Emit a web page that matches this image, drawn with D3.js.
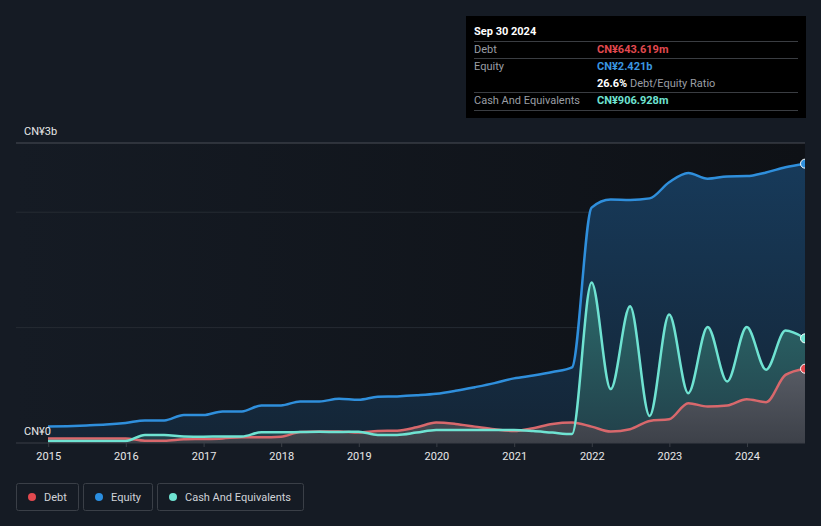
<!DOCTYPE html>
<html>
<head>
<meta charset="utf-8">
<script src="https://cdnjs.cloudflare.com/ajax/libs/d3/7.8.5/d3.min.js"></script>
<style>
  body { margin: 0; background: #151b24; }
  svg { display: block; font-family: Roboto, "Open Sans", sans-serif; }
</style>
</head>
<body>
<svg id="chart" width="821" height="526"></svg>
<script>
// quarter ends, Dec 2014 .. Sep 2024
var quarters = ["2014-12","2015-03","2015-06","2015-09","2015-12","2016-03","2016-06","2016-09",
  "2016-12","2017-03","2017-06","2017-09","2017-12","2018-03","2018-06","2018-09",
  "2018-12","2019-03","2019-06","2019-09","2019-12","2020-03","2020-06","2020-09",
  "2020-12","2021-03","2021-06","2021-09","2021-12","2022-03","2022-06","2022-09",
  "2022-12","2023-03","2023-06","2023-09","2023-12","2024-03","2024-06","2024-09"];

// values in CN¥ billions
var equity = [0.143,0.146,0.152,0.160,0.174,0.196,0.196,0.243,0.243,0.274,0.274,0.326,0.326,0.360,0.360,0.383,
  0.374,0.400,0.404,0.413,0.426,0.452,0.484,0.519,0.560,0.585,0.615,0.655,2.040,2.110,2.107,2.120,
  2.260,2.340,2.290,2.310,2.313,2.345,2.390,2.421];
var cash = [0.017,0.017,0.017,0.017,0.017,0.070,0.070,0.057,0.055,0.057,0.057,0.093,0.093,0.095,0.097,0.095,
  0.098,0.070,0.070,0.090,0.113,0.113,0.113,0.113,0.113,0.104,0.090,0.078,1.390,0.467,1.185,0.235,
  1.113,0.432,1.006,0.533,1.006,0.635,0.974,0.907];
var debt = [0.040,0.040,0.040,0.040,0.040,0.020,0.020,0.032,0.035,0.040,0.050,0.050,0.055,0.095,0.100,0.100,
  0.090,0.104,0.107,0.136,0.177,0.165,0.142,0.119,0.104,0.128,0.165,0.177,0.142,0.099,0.119,0.191,
  0.206,0.345,0.316,0.325,0.380,0.354,0.590,0.644];

var yearTicks = [2015,2016,2017,2018,2019,2020,2021,2022,2023,2024];
var yLabelVals = [0, 2.6];
var yLabelText = ["CN¥0", "CN¥3b"];
var gridVals = [1, 2];

var legendNames = ["Debt", "Equity", "Cash And Equivalents"];
var tipRows = [
  ["Debt", "CN¥643.619m", "#e2494f"],
  ["Equity", "CN¥2.421b", "#3a96e0"],
  ["", "26.6%", "#ffffff", " Debt/Equity Ratio"],
  ["Cash And Equivalents", "CN¥906.928m", "#6fe3d2"]
];

var parse = d3.timeParse("%Y-%m");
var dates = quarters.map(function(q){ return d3.timeDay.offset(d3.timeMonth.offset(parse(q), 1), -1); });

var svg = d3.select("#chart");
var plotL = 16, plotR = 805, plotT = 143, plotB = 443;

var x = d3.scaleTime()
  .domain([new Date(2014, 11, 31), new Date(2024, 8, 30)])
  .range([48, 805]);
var y = d3.scaleLinear().domain([0, 2.6]).range([plotB, plotT]);

var defs = svg.append("defs");
var bgGrad = defs.append("linearGradient").attr("id", "bg").attr("x1", 0).attr("x2", 1).attr("y1", 0).attr("y2", 0);
bgGrad.append("stop").attr("offset", "0%").attr("stop-color", "#151b24");
bgGrad.append("stop").attr("offset", "100%").attr("stop-color", "#0e1116");

function vGrad(id, c1, c2) {
  var gr = defs.append("linearGradient").attr("id", id).attr("x1", 0).attr("x2", 0).attr("y1", 0).attr("y2", 1);
  gr.append("stop").attr("offset", "0%").attr("stop-color", c1);
  gr.append("stop").attr("offset", "100%").attr("stop-color", c2);
}
vGrad("gEq", "#173a5a", "#142536");
vGrad("gCash", "#2c6a6b", "#22404a");
vGrad("gDebt", "#575b64", "#3d4149");

defs.append("clipPath").attr("id", "clip").append("rect")
  .attr("x", plotL).attr("y", 0).attr("width", plotR - plotL).attr("height", plotB + 1);

svg.append("rect").attr("x", plotL).attr("y", plotT).attr("width", plotR - plotL).attr("height", plotB - plotT)
  .attr("fill", "url(#bg)");

// grid
svg.append("line").attr("x1", plotL).attr("x2", plotR).attr("y1", y(2.6)).attr("y2", y(2.6))
  .attr("stroke", "#4a4f57").attr("stroke-width", 1);
svg.selectAll(".grid").data(gridVals).enter().append("line")
  .attr("x1", plotL).attr("x2", plotR)
  .attr("y1", function(d){ return y(d); }).attr("y2", function(d){ return y(d); })
  .attr("stroke", "#262b33").attr("stroke-width", 1);

var idx = d3.range(dates.length);
var g = svg.append("g").attr("clip-path", "url(#clip)");

function area(vals) {
  return d3.area().curve(d3.curveMonotoneX)
    .x(function(i){ return x(dates[i]); })
    .y0(y(0)).y1(function(i){ return y(vals[i]); })(idx);
}
function line(vals) {
  return d3.line().curve(d3.curveMonotoneX)
    .x(function(i){ return x(dates[i]); })
    .y(function(i){ return y(vals[i]); })(idx);
}

g.append("path").attr("d", area(equity)).attr("fill", "url(#gEq)");
g.append("path").attr("d", area(cash)).attr("fill", "url(#gCash)");
g.append("path").attr("d", area(debt)).attr("fill", "url(#gDebt)");

g.append("path").attr("d", line(debt)).attr("fill", "none").attr("stroke", "#d8686c").attr("stroke-width", 2.5);
g.append("path").attr("d", line(equity)).attr("fill", "none").attr("stroke", "#2f8fdc").attr("stroke-width", 2.5);
g.append("path").attr("d", line(cash)).attr("fill", "none").attr("stroke", "#6fe3d2").attr("stroke-width", 2.5);

var last = dates.length - 1;
[[equity, "#2f8fdc"], [cash, "#6fe3d2"], [debt, "#e2494f"]].forEach(function(s){
  g.append("circle").attr("cx", x(dates[last])).attr("cy", y(s[0][last])).attr("r", 4.5)
    .attr("fill", s[1]).attr("stroke", "#ffffff").attr("stroke-width", 1);
});

// zero line + x axis
svg.append("line").attr("x1", plotL).attr("x2", plotR).attr("y1", plotB).attr("y2", plotB)
  .attr("stroke", "#3a3f47").attr("stroke-width", 1);
var xAxis = svg.append("g").attr("transform", "translate(0," + plotB + ")")
  .call(d3.axisBottom(x).tickValues(yearTicks.map(function(yr){ return new Date(yr, 0, 1); }))
    .tickFormat(d3.timeFormat("%Y")).tickSize(4).tickPadding(5));
xAxis.select(".domain").remove();
xAxis.selectAll("line").attr("stroke", "#3a3f47");
xAxis.selectAll("text").attr("fill", "#e8e8e8").style("font-size", "11px").style("font-family", "Roboto, sans-serif");

// y labels
svg.selectAll(".ylab").data(yLabelVals).enter().append("text")
  .attr("x", 24).attr("y", function(d){ return y(d) - 8; })
  .attr("fill", "#e8e8e8").style("font-size", "11px")
  .text(function(d, i){ return yLabelText[i]; });

// legend
var legColors = ["#e2494f", "#2a8ee0", "#6fe3d2"];
var legX = [16, 83, 157], legW = [62, 69, 146];
legendNames.forEach(function(n, i){
  var lg = svg.append("g").attr("transform", "translate(" + legX[i] + ",483)");
  lg.append("rect").attr("x", 0.5).attr("y", 0.5).attr("width", legW[i]).attr("height", 27).attr("rx", 2)
    .attr("fill", "none").attr("stroke", "#3a3f47");
  lg.append("circle").attr("cx", 16).attr("cy", 14).attr("r", 4).attr("fill", legColors[i]);
  lg.append("text").attr("x", 28).attr("y", 18).attr("fill", "#d0d3d8").style("font-size", "11px").text(n);
});

// tooltip
var tip = svg.append("g");
tip.append("rect").attr("x", 466).attr("y", 16).attr("width", 340).attr("height", 102).attr("fill", "#000");
tip.append("text").attr("x", 474).attr("y", 35).attr("fill", "#fff").style("font-size", "11px").style("font-weight", "bold").text("Sep 30 2024");
[41.5, 58.5, 92.5, 110.5].forEach(function(ly){
  tip.append("line").attr("x1", 474).attr("x2", 798).attr("y1", ly).attr("y2", ly).attr("stroke", "#3a3d42");
});
var rowY = [53, 70, 87, 104];
tipRows.forEach(function(r, i){
  tip.append("text").attr("x", 474).attr("y", rowY[i]).attr("fill", "#9a9ea4").style("font-size", "11px").text(r[0]);
  var t = tip.append("text").attr("x", 597).attr("y", rowY[i]).style("font-size", "11px");
  t.append("tspan").attr("fill", r[2]).style("font-weight", "bold").text(r[1]);
  if (r[3]) t.append("tspan").attr("fill", "#9a9ea4").text(r[3]);
});
</script>
</body>
</html>
